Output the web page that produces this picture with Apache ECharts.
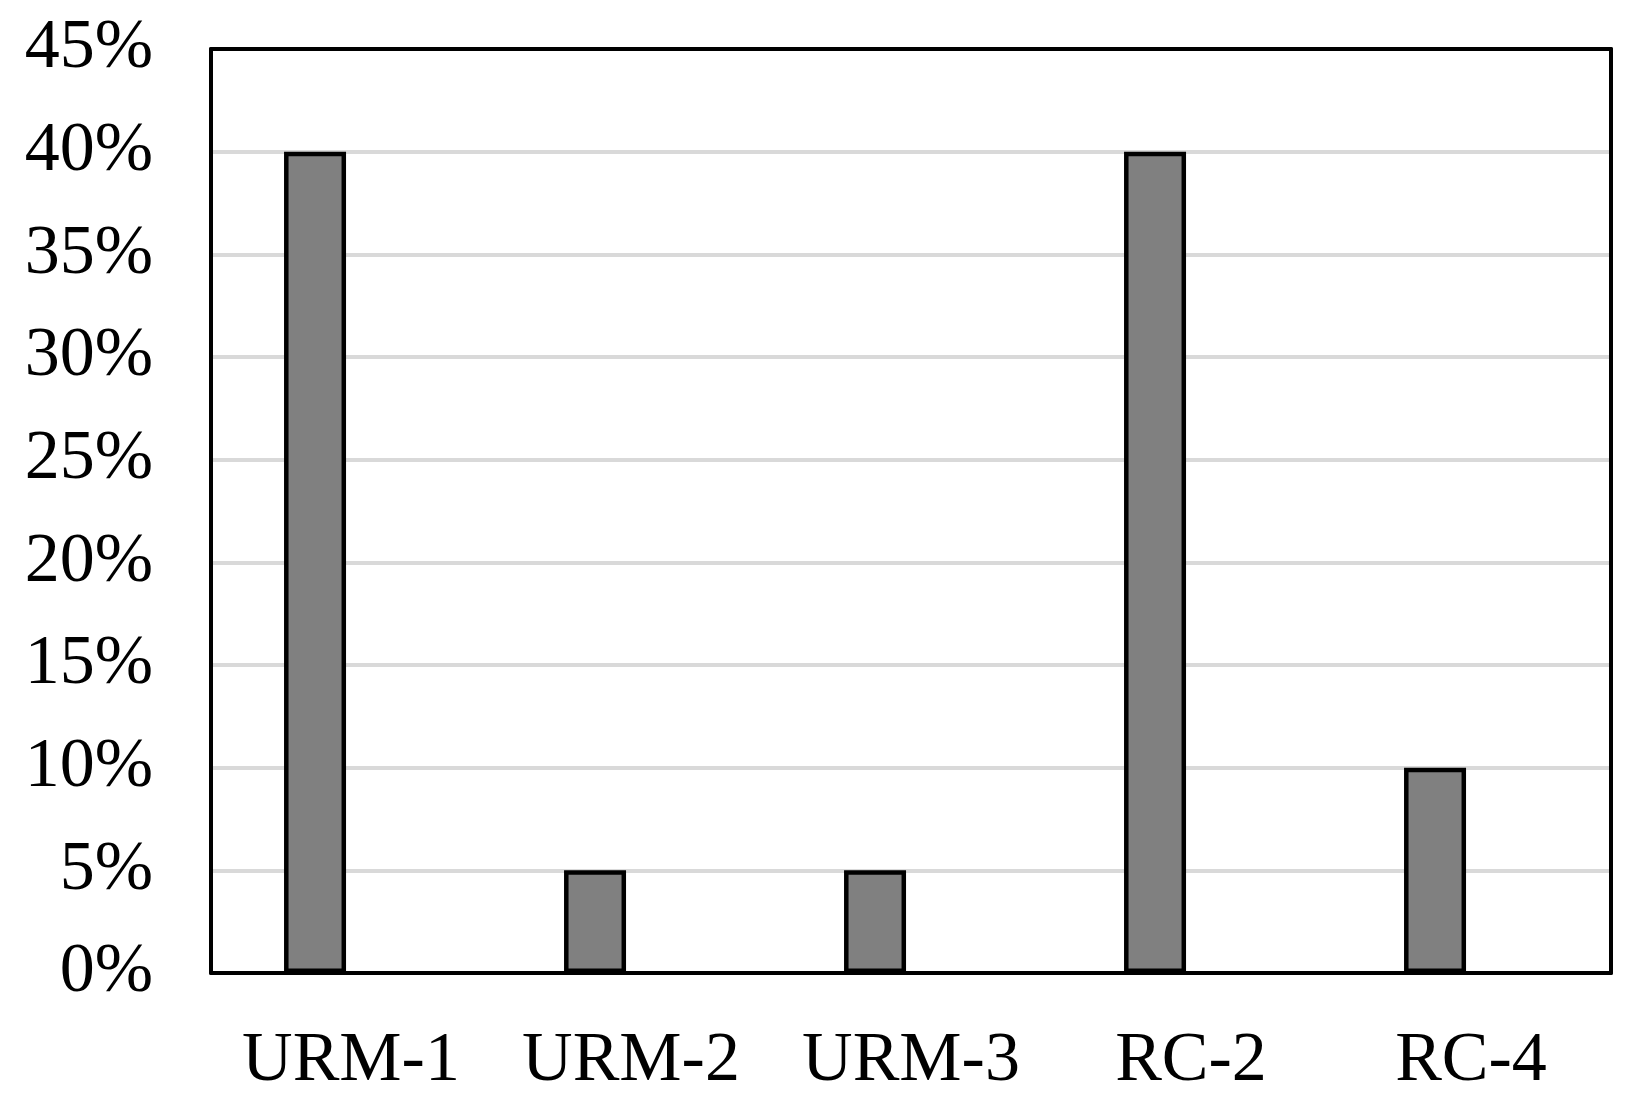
<!DOCTYPE html>
<html>
<head>
<meta charset="utf-8">
<script src="https://cdn.jsdelivr.net/npm/echarts@6/dist/echarts.min.js"></script>
<style>
  html, body { margin: 0; padding: 0; background: #fff; }
  #chart { width: 1640px; height: 1104px; }
</style>
</head>
<body>
<div id="chart"></div>
<script>
const categories = ["URM-1", "URM-2", "URM-3", "RC-2", "RC-4"];
const shares = [40, 5, 5, 40, 10];
// second series has no bars, it only holds the slot beside each bar
const emptySlot = [null, null, null, null, null];
const yTicks = { min: 0, max: 45, interval: 5 };

const frameLine = { show: true, onZero: false, lineStyle: { color: "#000", width: 4 } };

const chart = echarts.init(document.getElementById("chart"));
chart.setOption({
  backgroundColor: "#fff",
  animation: false,
  textStyle: { fontFamily: "Liberation Serif" },
  grid: {
    left: 211,
    right: 29,
    top: 49,
    bottom: 131
  },
  xAxis: [
    {
      type: "category",
      data: categories,
      axisLine: frameLine,
      axisTick: { show: false },
      z: 5,
      axisLabel: {
        color: "#000",
        fontSize: 70,
        fontFamily: "Liberation Serif",
        interval: 0,
        margin: 54
      }
    },
    {
      // top edge of the frame
      type: "category",
      position: "top",
      data: categories,
      axisLine: frameLine,
      axisTick: { show: false },
      axisLabel: { show: false },
      z: 5
    }
  ],
  yAxis: [
    {
      type: "value",
      min: yTicks.min,
      max: yTicks.max,
      interval: yTicks.interval,
      axisLine: frameLine,
      axisTick: { show: false },
      splitLine: { lineStyle: { color: "#d9d9d9", width: 4 } },
      axisLabel: {
        color: "#000",
        fontSize: 70,
        fontFamily: "Liberation Serif",
        margin: 58,
        formatter: "{value}%"
      }
    },
    {
      // right edge of the frame
      type: "value",
      position: "right",
      min: yTicks.min,
      max: yTicks.max,
      interval: yTicks.interval,
      axisLine: frameLine,
      axisTick: { show: false },
      axisLabel: { show: false },
      splitLine: { show: false },
      z: 5
    }
  ],
  series: [
    {
      name: "share",
      type: "bar",
      data: shares,
      barWidth: 62,
      barGap: "16%",
      z: 3,
      itemStyle: { color: "#808080", borderColor: "#000", borderWidth: 4.5 }
    },
    {
      name: "empty",
      type: "bar",
      data: emptySlot,
      barWidth: 62,
      itemStyle: { color: "#808080", borderColor: "#000", borderWidth: 4.5 }
    }
  ]
});
</script>
</body>
</html>
